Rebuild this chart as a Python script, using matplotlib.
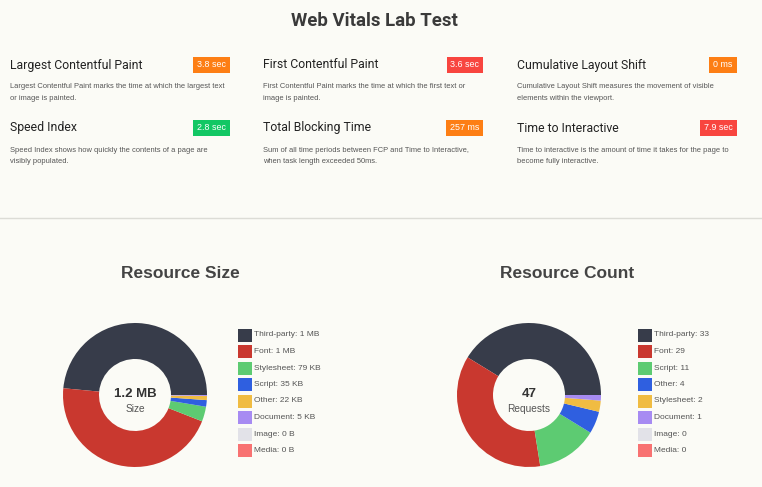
import matplotlib
matplotlib.use("Agg")
import matplotlib.pyplot as plt
from matplotlib.patches import Rectangle

# ---- data ----
metric_names = ["Largest Contentful Paint", "First Contentful Paint", "Cumulative Layout Shift",
                "Speed Index", "Total Blocking Time", "Time to Interactive"]
metric_values = ["3.8 sec", "3.6 sec", "0 ms", "2.8 sec", "257 ms", "7.9 sec"]
metric_status = ["average", "poor", "average", "good", "average", "poor"]
metric_desc = [
    ["Largest Contentful Paint marks the time at which the largest text", "or image is painted."],
    ["First Contentful Paint marks the time at which the first text or", "image is painted."],
    ["Cumulative Layout Shift measures the movement of visible", "elements within the viewport."],
    ["Speed Index shows how quickly the contents of a page are", "visibly populated."],
    ["Sum of all time periods between FCP and Time to Interactive,", "when task length exceeded 50ms."],
    ["Time to interactive is the amount of time it takes for the page to", "become fully interactive."],
]

size_labels = ["Third-party", "Font", "Stylesheet", "Script", "Other", "Document", "Image", "Media"]
size_kb = [1150, 1080, 79, 35, 22, 5, 0, 0]
size_text = ["1 MB", "1 MB", "79 KB", "35 KB", "22 KB", "5 KB", "0 B", "0 B"]
size_total = "1.2 MB"

count_labels = ["Third-party", "Font", "Script", "Other", "Stylesheet", "Document", "Image", "Media"]
count_values = [33, 29, 11, 4, 2, 1, 0, 0]
count_total = "47"

# colours go by position in the list, not by resource type
palette = ["#373c4a", "#c9382f", "#5dcb72", "#2f5fe0", "#f0bc42", "#a78bf2", "#e2e2e8", "#f87272"]
status_colors = {"good": "#12c764", "average": "#fd7e14", "poor": "#f8453f"}

BG = "#fbfbf6"
W, H = 762, 487

fig = plt.figure(figsize=(W / 100, H / 100), dpi=100, facecolor=BG)
ov = fig.add_axes([0, 0, 1, 1])
ov.set_xlim(0, W)
ov.set_ylim(H, 0)
ov.axis("off")

ov.text(374, 21, "Web Vitals Lab Test", ha="center", va="center", fontsize=13.4,
        fontweight="bold", family="Roboto", color="#3a3a3a")

# metric cards
col_x = [10, 263, 517]
badge_right = [230, 483, 737]
row_y = [65, 128]
badge_w = {"3.8 sec": 37, "3.6 sec": 36, "0 ms": 28, "2.8 sec": 37, "257 ms": 37, "7.9 sec": 37}
for i, name in enumerate(metric_names):
    c, r = i % 3, i // 3
    x, y = col_x[c], row_y[r]
    ov.text(x, y, name, ha="left", va="center", fontsize=8.8, family="Roboto", color="#222222")
    bw = badge_w[metric_values[i]]
    ov.add_patch(Rectangle((badge_right[c] - bw, y - 8.5), bw, 16.5,
                           facecolor=status_colors[metric_status[i]], edgecolor="none"))
    ov.text(badge_right[c] - bw / 2, y - 0.5, metric_values[i], ha="center", va="center",
            fontsize=6.4, family="Liberation Sans", color="white")
    for j, line in enumerate(metric_desc[i]):
        ov.text(x, y + 22 + j * 11.5, line, ha="left", va="center", fontsize=5.4,
                family="Liberation Sans", color="#555555")

ov.plot([0, W], [218, 218], color="#dcdcd6", lw=1)


def donut(cx, title, title_x, labels, values, texts, total, sub, legend_x):
    ov.text(title_x, 274, title, ha="center", va="center", fontsize=12.5,
            fontweight="bold", family="Liberation Sans", color="#444444")
    r = 72
    ax = fig.add_axes([(cx - r) / W, 1 - (395 + r) / H, 2 * r / W, 2 * r / H])
    ax.pie(values, colors=palette[:len(values)], startangle=0, counterclock=True,
           radius=1, wedgeprops=dict(width=0.5, linewidth=0))
    ax.set_xlim(-1, 1)
    ax.set_ylim(-1, 1)
    ax.set_facecolor("none")
    ax.text(0, 0.01, total, ha="center", va="center", fontsize=9.5, fontweight="bold",
            family="Liberation Sans", color="#333333")
    ax.text(0, -0.19, sub, ha="center", va="center", fontsize=7.3,
            family="Liberation Sans", color="#555555")
    for k, lab in enumerate(labels):
        yy = 335 + k * 16.5
        ov.add_patch(Rectangle((legend_x, yy - 6.5), 14, 13, facecolor=palette[k],
                               edgecolor="none"))
        ov.text(legend_x + 16, yy, f"{lab}: {texts[k]}", ha="left", va="center",
                fontsize=6, family="Liberation Sans", color="#555555")


donut(135, "Resource Size", 180, size_labels, size_kb, size_text, size_total, "Size", 238)
donut(529, "Resource Count", 567, count_labels, count_values, [str(v) for v in count_values],
      count_total, "Requests", 638)

fig.savefig("out.png", dpi=100, facecolor=BG)
